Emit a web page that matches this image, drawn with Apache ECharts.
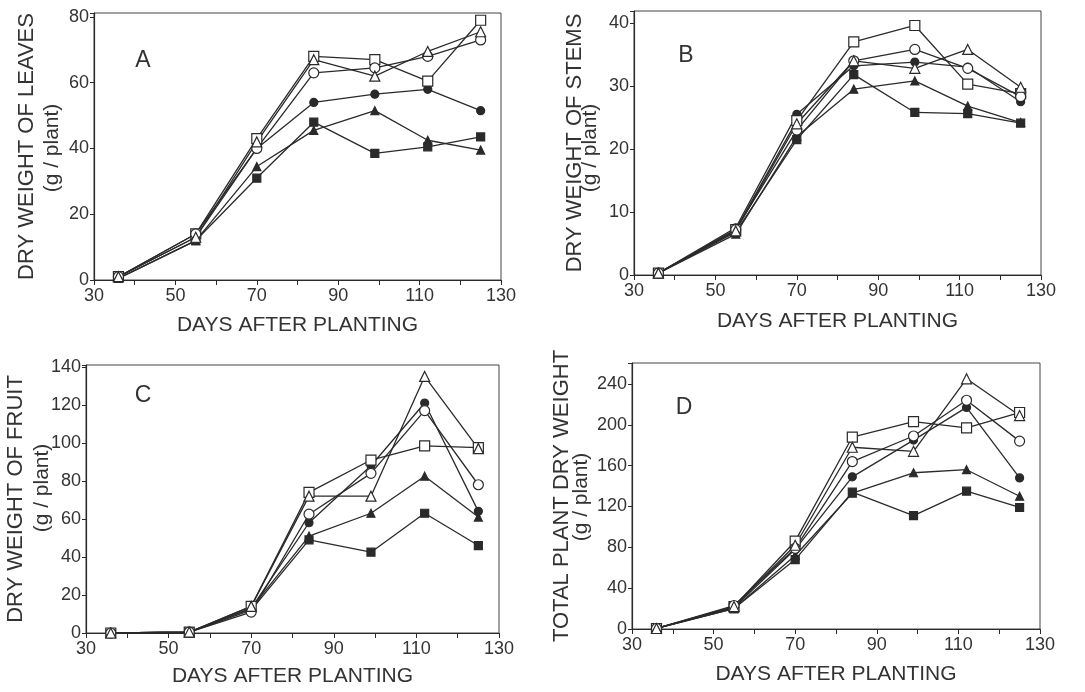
<!DOCTYPE html>
<html>
<head>
    <meta charset="utf-8">
    <title>Dry weight panels</title>
    <style>
        html, body { margin: 0; padding: 0; background: #fff; }
    </style>
</head>
<body>
    <div id="main" style="width: 1085px;height:692px;"></div>
    <script src="https://cdn.jsdelivr.net/npm/echarts@6/dist/echarts.min.js"></script>
    <script>
        // sampling days
        var days = [36, 55, 70, 84, 99, 112, 125];

        // rows: open square, open circle, open triangle, filled circle, filled triangle, filled square
        var leaves = [
            [1, 14, 43, 68, 67, 60.5, 79],
            [1, 14, 40, 63, 64.5, 68, 73],
            [1, 13, 42, 67, 62, 69.5, 75.5],
            [1, 13, 40, 54, 56.5, 58, 51.5],
            [0.5, 12, 34.5, 45.5, 51.5, 42.5, 39.5],
            [0.5, 12, 31, 48, 38.5, 40.5, 43.5]
        ];
        var stems = [
            [0.3, 7.2, 24.5, 37, 39.6, 30.3, 28.8],
            [0.3, 7.2, 23, 34, 35.8, 32.8, 28.3],
            [0.3, 7, 24, 34, 32.8, 35.8, 29.8],
            [0.3, 7.5, 25.5, 33.2, 33.8, 33, 27.5],
            [0.3, 6.5, 22, 29.5, 30.8, 26.8, 24.2],
            [0.3, 6.8, 21.5, 31.8, 25.8, 25.6, 24.1]
        ];
        var fruit = [
            [0, 0.5, 14, 74, 91, 98.5, 97.5],
            [0, 0.5, 11, 62.5, 84, 117, 78],
            [0, 0.5, 14, 72, 72, 135, 97],
            [0, 0.5, 13, 58, 88, 121, 64],
            [0, 0.5, 13, 51, 63, 82.5, 61],
            [0, 0.5, 12, 49, 42.5, 63, 46]
        ];
        var total = [
            [0.5, 22, 86, 188, 203, 197, 212],
            [0.5, 23, 79, 164, 189, 224, 184],
            [0.5, 22, 82, 178, 174, 245, 209],
            [0.5, 21, 78, 149, 185, 217, 148],
            [0.5, 20, 72, 133, 153, 156, 130],
            [0.5, 20, 68, 134, 111, 135, 119]
        ];

        var panelLetters = ['A', 'B', 'C', 'D'];
        var yTitles = ['DRY WEIGHT OF LEAVES', 'DRY WEIGHT OF STEMS', 'DRY WEIGHT OF FRUIT', 'TOTAL PLANT DRY WEIGHT'];
        var ySubTitle = '(g / plant)';
        var xTitle = 'DAYS AFTER PLANTING';
        var yIntervals = [20, 10, 20, 40];
        var yTops = [80, 40, 140, 240];

        var ink = '#2a2a2a';
        var panels = [leaves, stems, fruit, total];

        // layout for each panel (pixels)
        var layout = [
            { left: 94, top: 13, width: 407, height: 267, yMax: 81.2, gapY: 56, gapX: 35, letter: [143, 61], sub: [52, 148] },
            { left: 634, top: 11, width: 407, height: 264, yMax: 41.9, gapY: 48, gapX: 36, letter: [686, 56], sub: [590, 148] },
            { left: 86, top: 365, width: 413, height: 268, yMax: 141, gapY: 59, gapX: 33, letter: [143, 396], sub: [42, 488] },
            { left: 632, top: 363, width: 408, height: 266, yMax: 260.5, gapY: 59, gapX: 35, letter: [684, 408], sub: [581, 497] }
        ];

        var markerStyles = [
            { symbol: 'rect', size: 10, fill: '#fff' },
            { symbol: 'circle', size: 10, fill: '#fff' },
            { symbol: 'triangle', size: 10, fill: '#fff' },
            { symbol: 'circle', size: 8, fill: ink },
            { symbol: 'triangle', size: 8, fill: ink },
            { symbol: 'rect', size: 8, fill: ink }
        ];

        var grids = [], xAxes = [], yAxes = [], series = [], graphics = [];

        for (var p = 0; p < 4; p++) {
            var L = layout[p];
            grids.push({
                left: L.left, top: L.top, width: L.width, height: L.height,
                show: true, borderColor: '#444', borderWidth: 1, containLabel: false
            });
            xAxes.push({
                type: 'value', gridIndex: p, min: 30, max: 130, interval: 10,
                name: xTitle, nameLocation: 'middle', nameGap: L.gapX,
                nameTextStyle: { fontFamily: 'Liberation Sans', fontSize: 21, color: '#333' },
                axisLine: { lineStyle: { color: ink, width: 1.2 } },
                axisTick: { length: 5, lineStyle: { color: ink } },
                axisLabel: {
                    fontFamily: 'Liberation Sans', fontSize: 18, color: '#333', margin: 7,
                    formatter: function (v) { return (v - 30) % 20 === 0 ? v : ''; }
                },
                splitLine: { show: false }
            });
            (function (top) {
                yAxes.push({
                    type: 'value', gridIndex: p, min: 0, max: L.yMax, interval: yIntervals[p],
                    name: yTitles[p],
                    nameLocation: 'middle', nameRotate: 90, nameGap: L.gapY,
                    nameTextStyle: { color: '#333', fontFamily: 'Liberation Sans', fontSize: 22 },
                    axisLine: { show: true, lineStyle: { color: ink, width: 1.2 } },
                    axisTick: { length: 4, lineStyle: { color: ink } },
                    axisLabel: {
                        fontFamily: 'Liberation Sans', fontSize: 18, color: '#333', margin: 5,
                        formatter: function (v) { return v <= top ? v : ''; }
                    },
                    splitLine: { show: false }
                });
            })(yTops[p]);

            var rows = panels[p];
            for (var s = 0; s < rows.length; s++) {
                var m = markerStyles[s];
                var pts = [];
                for (var i = 0; i < days.length; i++) pts.push([days[i], rows[s][i]]);
                series.push({
                    type: 'line', xAxisIndex: p, yAxisIndex: p, data: pts,
                    symbol: m.symbol, symbolSize: m.size, showAllSymbol: true,
                    z: 2 + (m.fill === '#fff' ? 1 : 0),
                    lineStyle: { color: ink, width: 1.3 },
                    itemStyle: { color: m.fill, borderColor: ink, borderWidth: 1.2, opacity: 1 },
                    emphasis: { disabled: true },
                    animation: false
                });
            }

            graphics.push({
                type: 'text', x: L.letter[0], y: L.letter[1],
                style: {
                    text: panelLetters[p], font: 'normal 23px "Liberation Sans"',
                    fill: '#333', align: 'center', verticalAlign: 'middle'
                }
            });
            // unit line under the y title
            graphics.push({
                type: 'text', x: L.sub[0], y: L.sub[1], rotation: Math.PI / 2,
                style: {
                    text: ySubTitle, font: 'normal 21px "Liberation Sans"',
                    fill: '#333', align: 'center', verticalAlign: 'middle'
                }
            });
        }

        var myChart = echarts.init(document.getElementById('main'), null, { renderer: 'canvas' });
        var option = {
            backgroundColor: '#fff',
            animation: false,
            grid: grids,
            xAxis: xAxes,
            yAxis: yAxes,
            series: series,
            graphic: graphics
        };
        myChart.setOption(option);
    </script>
</body>
</html>
